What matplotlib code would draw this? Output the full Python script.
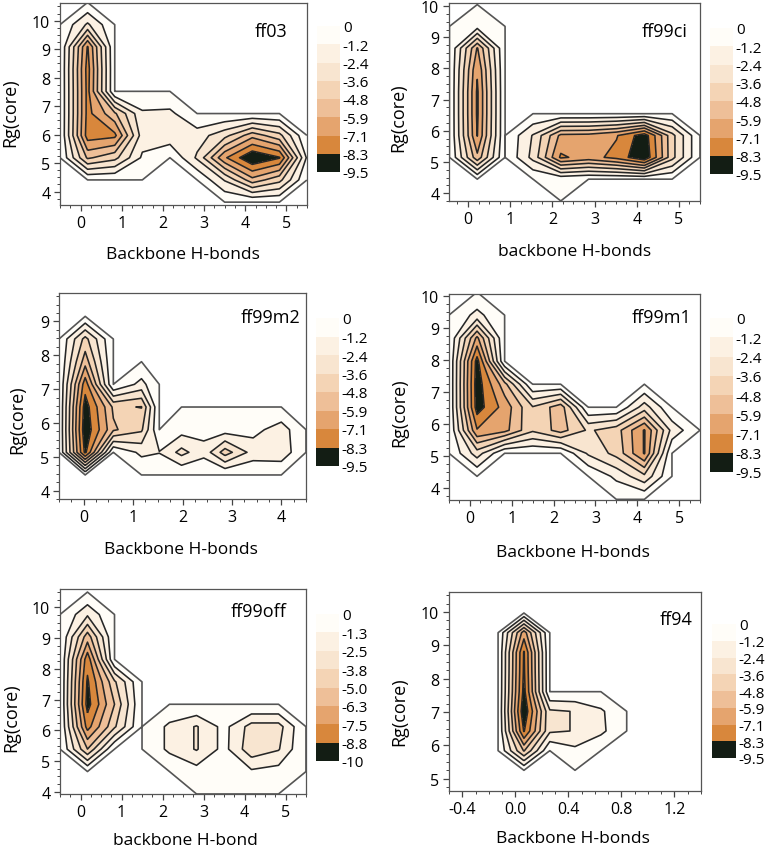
import numpy as np
import matplotlib
matplotlib.use("Agg")
import matplotlib.pyplot as plt
from matplotlib.colors import ListedColormap, BoundaryNorm
from matplotlib.colorbar import ColorbarBase
from matplotlib.ticker import AutoMinorLocator

plt.rcParams['font.family'] = ['Open Sans', 'DejaVu Sans']
plt.rcParams['axes.unicode_minus'] = False
plt.rcParams['contour.negative_linestyle'] = 'solid'

W, H = 776, 853

# free energy grids (rows = Rg values bottom -> top, cols = H-bond values)
hb_ff03 = [-0.5, 0.17, 0.83, 1.5, 2.17, 2.83, 3.5, 4.17, 4.83, 5.5]
rg_ff03 = [3.63, 4.41, 5.19, 5.97, 6.74, 7.52, 8.30, 9.08, 9.86, 10.64]
g_ff03 = [
    [0, 0, 0, 0, 0, 0, 0, 0, 0, 0],
    [0, 0, 0, 0, 0, 0, -2.5, -5.5, -4.0, 0],
    [0, -5.0, -4.0, -1.0, 0, -2.6, -6.9, -9.5, -8.4, -1.0],
    [0, -7.7, -7.4, -1.8, -2.0, -1.8, -3.2, -5.5, -4.0, 0],
    [0, -7.5, -5.0, -1.4, -1.5, 0, 0, 0, 0, 0],
    [0, -7.5, 0, 0, 0, 0, 0, 0, 0, 0],
    [0, -7.6, 0, 0, 0, 0, 0, 0, 0, 0],
    [0, -7.2, 0, 0, 0, 0, 0, 0, 0, 0],
    [0, -2.6, 0, 0, 0, 0, 0, 0, 0, 0],
    [0, 0, 0, 0, 0, 0, 0, 0, 0, 0],
]

hb_ff99ci = [-0.44, 0.22, 0.88, 1.54, 2.2, 2.86, 3.52, 4.18, 4.84, 5.5]
rg_ff99ci = [3.75, 4.45, 5.15, 5.85, 6.55, 7.25, 7.95, 8.65, 9.35, 10.05]
g_ff99ci = [
    [0, 0, 0, 0, 0, 0, 0, 0, 0, 0],
    [0, 0, 0, 0, -0.3, 0, 0, 0, 0, 0],
    [0, -5.6, 0, -2.8, -7.3, -6.6, -7.5, -9.4, -4.0, 0],
    [0, -7.15, 0, -2.5, -6.2, -6.3, -7.0, -9.0, -4.0, 0],
    [0, -7.3, 0, 0, 0, 0, 0, 0, 0, 0],
    [0, -7.3, 0, 0, 0, 0, 0, 0, 0, 0],
    [0, -6.95, 0, 0, 0, 0, 0, 0, 0, 0],
    [0, -6.0, 0, 0, 0, 0, 0, 0, 0, 0],
    [0, -0.7, 0, 0, 0, 0, 0, 0, 0, 0],
    [0, 0, 0, 0, 0, 0, 0, 0, 0, 0],
]

hb_ff99m2 = [-0.5, 0.03, 0.6, 1.17, 1.53, 1.98, 2.43, 2.86, 3.43, 4.0, 4.5]
rg_ff99m2 = [3.79, 4.46, 5.13, 5.80, 6.47, 7.14, 7.81, 8.48, 9.15, 9.82]
g_ff99m2 = [
    [0, 0, 0, 0, 0, 0, 0, 0, 0, 0, 0],
    [0, 0, 0, 0, 0, 0, 0, 0, 0, 0, 0],
    [0, -8.6, 0, -1.5, -1.25, -2.8, -1.6, -4.2, -1.9, -2.0, 0],
    [0, -9.2, -5.0, -3.8, 0, -0.7, -0.8, -0.6, -0.8, -1.8, 0],
    [0, -8.9, -4.6, -4.85, 0, 0, 0, 0, 0, 0, 0],
    [0, -7.8, 0, -1.6, 0, 0, 0, 0, 0, 0, 0],
    [0, -5.45, 0, 0, 0, 0, 0, 0, 0, 0, 0],
    [0, -4.0, 0, 0, 0, 0, 0, 0, 0, 0, 0],
    [0, 0, 0, 0, 0, 0, 0, 0, 0, 0, 0],
    [0, 0, 0, 0, 0, 0, 0, 0, 0, 0, 0],
]

hb_ff99m1 = [-0.5, 0.17, 0.83, 1.5, 2.17, 2.83, 3.5, 4.17, 4.83, 5.5]
rg_ff99m1 = [3.63, 4.35, 5.07, 5.79, 6.51, 7.23, 7.95, 8.67, 9.39, 10.11]
g_ff99m1 = [
    [0, 0, 0, 0, 0, 0, 0, 0, 0, 0],
    [0, 0, 0, 0, 0, 0, -1.5, -3.3, 0, 0],
    [0, -3.0, 0, 0, 0, -2.6, -4.0, -7.2, 0, 0],
    [0, -7.0, -6.3, -3.8, -5.3, -3.4, -4.3, -7.2, -2.0, 0],
    [0, -8.9, -6.6, -3.7, -5.5, 0, 0, -3.0, 0, 0],
    [0, -9.0, -5.2, 0, 0, 0, 0, 0, 0, 0],
    [0, -8.8, 0, 0, 0, 0, 0, 0, 0, 0],
    [0, -6.2, 0, 0, 0, 0, 0, 0, 0, 0],
    [0, -1.6, 0, 0, 0, 0, 0, 0, 0, 0],
    [0, 0, 0, 0, 0, 0, 0, 0, 0, 0],
]

hb_ff99off = [-0.5, 0.17, 0.83, 1.5, 2.17, 2.83, 3.5, 4.17, 4.83, 5.5]
rg_ff99off = [3.93, 4.66, 5.39, 6.12, 6.85, 7.58, 8.31, 9.04, 9.77, 10.5]
g_ff99off = [
    [0, 0, 0, 0, 0, 0, 0, 0, 0, 0],
    [0, 0, 0, 0, 0, -0.8, -1.0, -1.1, -0.8, 0],
    [0, -5.0, 0, 0, -1.6, -2.6, -0.9, -3.3, -2.6, 0],
    [0, -8.0, -4.0, 0, -1.6, -2.6, -0.9, -3.0, -3.0, 0],
    [0, -9.3, -5.0, 0, 0, 0, 0, 0, 0, 0],
    [0, -9.0, -4.0, 0, 0, 0, 0, 0, 0, 0],
    [0, -8.3, 0, 0, 0, 0, 0, 0, 0, 0],
    [0, -5.7, 0, 0, 0, 0, 0, 0, 0, 0],
    [0, -2.3, 0, 0, 0, 0, 0, 0, 0, 0],
    [0, 0, 0, 0, 0, 0, 0, 0, 0, 0],
]

hb_ff94 = [-0.32, -0.13, 0.065, 0.26, 0.45, 0.645, 0.84, 1.03]
rg_ff94 = [4.66, 5.25, 5.84, 6.43, 7.02, 7.61, 8.2, 8.79, 9.38, 9.97, 10.56]
g_ff94 = [
    [0, 0, 0, 0, 0, 0, 0, 0],
    [0, 0, 0, 0, 0, 0, 0, 0],
    [0, 0, -4.9, 0, -0.9, 0, 0, 0],
    [0, 0, -8.4, -2.6, -2.35, -1.5, 0, 0],
    [0, 0, -9.3, -2.6, -2.35, -1.4, 0, 0],
    [0, 0, -8.7, 0, 0, 0, 0, 0],
    [0, 0, -8.5, 0, 0, 0, 0, 0],
    [0, 0, -8.4, 0, 0, 0, 0, 0],
    [0, 0, -6.5, 0, 0, 0, 0, 0],
    [0, 0, 0, 0, 0, 0, 0, 0],
    [0, 0, 0, 0, 0, 0, 0, 0],
]

levels_a = [-9.5, -8.3, -7.1, -5.9, -4.8, -3.6, -2.4, -1.2, 0]
labels_a = ['-9.5', '-8.3', '-7.1', '-5.9', '-4.8', '-3.6', '-2.4', '-1.2', '0']
levels_b = [-10, -8.8, -7.5, -6.3, -5.0, -3.8, -2.5, -1.3, 0]
labels_b = ['-10', '-8.8', '-7.5', '-6.3', '-5.0', '-3.8', '-2.5', '-1.3', '0']

# band colours, lowest to highest
band_colors = ['#131d14', '#d8873c', '#e5a46e', '#eebf98', '#f4d4b5',
               '#f8e5d0', '#fcf1e3', '#fffdf8']

panels = [
    dict(name='ff03', hb=hb_ff03, rg=rg_ff03, g=g_ff03, xlim=(-0.5, 5.5), ylim=(3.53, 10.62),
         xt=[0, 1, 2, 3, 4, 5], yt=[4, 5, 6, 7, 8, 9, 10], xl='Backbone H-bonds',
         ax=(60, 4, 307, 206), cb=(317, 27, 340, 173), lev=levels_a, lab=labels_a,
         tp=(287, 32), xlp=(183, 255), ylp=(10, 113)),
    dict(name='ff99ci', hb=hb_ff99ci, rg=rg_ff99ci, g=g_ff99ci, xlim=(-0.45, 5.5), ylim=(3.75, 10.1),
         xt=[0, 1, 2, 3, 4, 5], yt=[4, 5, 6, 7, 8, 9, 10], xl='backbone H-bonds',
         ax=(449, 4, 700, 202), cb=(710, 29, 733, 175), lev=levels_a, lab=labels_a,
         tp=(688, 32), xlp=(575, 252), ylp=(398, 118)),
    dict(name='ff99m2', hb=hb_ff99m2, rg=rg_ff99m2, g=g_ff99m2, xlim=(-0.5, 4.5), ylim=(3.75, 9.84),
         xt=[0, 1, 2, 3, 4], yt=[4, 5, 6, 7, 8, 9], xl='Backbone H-bonds',
         ax=(59, 294, 306, 500), cb=(316, 319, 339, 467), lev=levels_a, lab=labels_a,
         tp=(300, 318), xlp=(181, 550), ylp=(17, 420)),
    dict(name='ff99m1', hb=hb_ff99m1, rg=rg_ff99m1, g=g_ff99m1, xlim=(-0.5, 5.5), ylim=(3.61, 10.05),
         xt=[0, 1, 2, 3, 4, 5], yt=[4, 5, 6, 7, 8, 9, 10], xl='Backbone H-bonds',
         ax=(449, 295, 700, 501), cb=(710, 319, 733, 473), lev=levels_a, lab=labels_a,
         tp=(691, 318), xlp=(573, 553), ylp=(399, 413)),
    dict(name='ff99off', hb=hb_ff99off, rg=rg_ff99off, g=g_ff99off, xlim=(-0.5, 5.5), ylim=(3.93, 10.6),
         xt=[0, 1, 2, 3, 4, 5], yt=[4, 5, 6, 7, 8, 9, 10], xl='backbone H-bond',
         ax=(60, 590, 306, 795), cb=(316, 615, 339, 762), lev=levels_b, lab=labels_b,
         tp=(287, 612), xlp=(185, 841), ylp=(11, 718)),
    dict(name='ff94', hb=hb_ff94, rg=rg_ff94, g=g_ff94, xlim=(-0.5, 1.4), ylim=(4.63, 10.6),
         xt=[-0.4, 0.0, 0.4, 0.8, 1.2], yt=[5, 6, 7, 8, 9, 10], xl='Backbone H-bonds',
         ax=(449, 593, 701, 792), cb=(712, 625, 736, 759), lev=levels_a, lab=labels_a,
         tp=(693, 620), xlp=(573, 839), ylp=(399, 712)),
]

fig = plt.figure(figsize=(W / 100, H / 100), dpi=100)

for p in panels:
    l, t, r, b = p['ax']
    ax = fig.add_axes([l / W, 1 - b / H, (r - l) / W, (b - t) / H])
    X, Y = np.meshgrid(p['hb'], p['rg'])
    Z = np.array(p['g'], dtype=float)
    lev = p['lev']
    fill_lev = [-30] + lev[1:-1] + [-1e-3]
    ax.contourf(X, Y, Z, levels=fill_lev, colors=band_colors)
    ax.contour(X, Y, Z, levels=lev[1:-1], colors='#262626', linewidths=1.15,
               linestyles='solid')
    ax.contour(X, Y, Z, levels=[-1e-3], colors='#555555', linewidths=1.2,
               linestyles='solid')
    ax.set_xlim(*p['xlim'])
    ax.set_ylim(*p['ylim'])
    ax.set_xticks(p['xt'])
    ax.set_yticks(p['yt'])
    ax.xaxis.set_minor_locator(AutoMinorLocator(4))
    ax.yaxis.set_minor_locator(AutoMinorLocator(4))
    ax.tick_params(which='major', direction='out', length=4, width=0.9, color='#444444',
                   labelsize=11.5, pad=3)
    ax.tick_params(which='minor', direction='out', length=2.2, width=0.7, color='#444444')
    for s in ax.spines.values():
        s.set_color('#555555')
        s.set_linewidth(0.9)
    ax.text(p['tp'][0] / W, 1 - p['tp'][1] / H, p['name'], transform=fig.transFigure,
            ha='right', va='center', fontsize=13)
    fig.text(p['xlp'][0] / W, 1 - p['xlp'][1] / H, p['xl'], ha='center', va='center',
             fontsize=12.5)
    fig.text(p['ylp'][0] / W, 1 - p['ylp'][1] / H, 'Rg(core)', ha='center', va='center',
             rotation=90, fontsize=13)

    # discrete colour bar
    cl, ct, cr, cbt = p['cb']
    cax = fig.add_axes([cl / W, 1 - cbt / H, (cr - cl) / W, (cbt - ct) / H])
    cb = ColorbarBase(cax, cmap=ListedColormap(band_colors),
                      norm=BoundaryNorm(lev, len(band_colors)),
                      boundaries=lev, ticks=lev, spacing='uniform')
    cb.outline.set_visible(False)
    cax.set_yticklabels(p['lab'])
    cax.tick_params(length=0, labelsize=11, pad=2)

fig.savefig('out.png', dpi=100)
